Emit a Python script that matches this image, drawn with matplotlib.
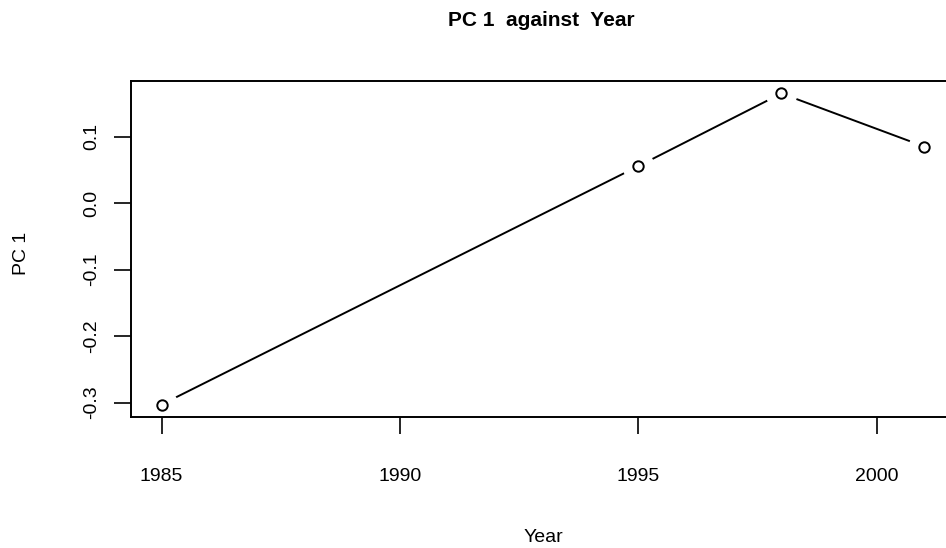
import matplotlib
matplotlib.use("Agg")
import matplotlib.pyplot as plt

# Data
years = [1985, 1995, 1998, 2001]
pc1 = [-0.303, 0.0557, 0.165, 0.085]
x_ticks = [1985, 1990, 1995, 2000]
y_ticks = [-0.3, -0.2, -0.1, 0.0, 0.1]
y_tick_labels = ["-0.3", "-0.2", "-0.1", "0.0", "0.1"]

plt.rcParams['font.family'] = ['Liberation Sans', 'DejaVu Sans']

fig = plt.figure(figsize=(9.46, 5.48), dpi=100)
# right edge of the plot box falls just outside the image, as in the reference
axis = fig.add_axes([131 / 946, 131 / 548, 824 / 946, 336 / 548])
axis.set_axisbelow(False)

# R-style type="b": line with gaps around the points
axis.plot(years, pc1, color='black', linewidth=1.4, zorder=1)
axis.plot(years, pc1, linestyle='none', marker='o', markersize=22,
          markerfacecolor='white', markeredgecolor='white', zorder=1.5)
axis.plot(years, pc1, linestyle='none', marker='o', markersize=7.5,
          markerfacecolor='white', markeredgecolor='black',
          markeredgewidth=1.4, zorder=4)

xr = years[-1] - years[0]
axis.set_xlim(years[0] - 0.04 * xr, years[-1] + 0.04 * xr)
yr = max(pc1) - min(pc1)
axis.set_ylim(min(pc1) - 0.04 * yr, max(pc1) + 0.04 * yr)

axis.set_xticks(x_ticks)
axis.set_xticklabels([str(t) for t in x_ticks], fontsize=14)
axis.set_yticks(y_ticks)
axis.set_yticklabels(y_tick_labels, fontsize=14, rotation=90, va='center')
axis.tick_params(direction='out', length=12, width=1.2)
axis.tick_params(axis='x', pad=25)
axis.tick_params(axis='y', pad=10)

for sp in axis.spines.values():
    sp.set_linewidth(1.4)
    sp.set_zorder(3)

fig.text(541.5 / 946, 1 - 20 / 548, "PC 1  against  Year", ha='center',
         va='center', fontsize=15, fontweight='bold')
fig.text(543 / 946, 1 - 538 / 548, "Year", ha='center', va='center',
         fontsize=14)
fig.text(21 / 946, 1 - 253 / 548, "PC 1", ha='center', va='center',
         fontsize=14, rotation=90)

plt.savefig("out.png", dpi=100)
